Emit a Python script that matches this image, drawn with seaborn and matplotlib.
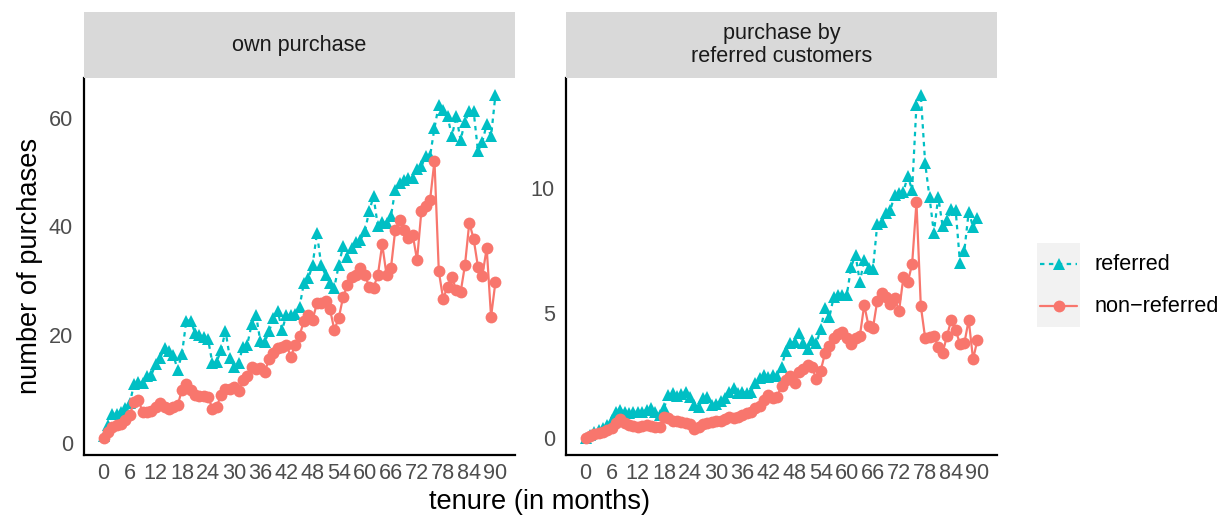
import numpy as np
import pandas as pd
import matplotlib
matplotlib.use("Agg")
import matplotlib.pyplot as plt
import seaborn as sns

# ---- data: average purchases per customer by month of tenure ----
months = list(range(0, 91))

own_referred = [
    1.2, 3.3, 5.4, 5.4, 5.6, 6.4, 7.3, 10.8, 11.2, 11.0,
    12.3, 12.6, 14.6, 15.7, 17.5, 17.0, 16.3, 13.5, 16.4, 22.6,
    22.6, 20.3, 20.0, 19.5, 19.1, 14.7, 15.0, 17.2, 20.7, 15.7,
    14.1, 14.7, 17.8, 18.1, 21.9, 23.7, 18.8, 18.6, 20.6, 23.0,
    24.3, 20.9, 23.6, 23.6, 23.9, 25.1, 29.5, 30.4, 32.8, 38.8,
    32.8, 31.0, 29.6, 28.7, 32.8, 36.3, 34.4, 36.0, 37.2, 37.5,
    39.1, 42.8, 45.6, 40.0, 40.9, 40.6, 41.9, 46.8, 48.0, 48.6,
    48.9, 48.9, 50.7, 51.1, 53.1, 53.1, 58.2, 62.5, 61.6, 60.4,
    56.7, 60.4, 56.0, 59.4, 61.3, 61.3, 53.9, 55.7, 58.9, 56.7,
    64.3,
]
own_non_referred = [
    0.9, 2.0, 3.0, 3.3, 3.5, 4.2, 5.1, 7.6, 7.9, 5.6,
    5.6, 5.9, 6.7, 7.3, 6.7, 6.3, 6.7, 6.9, 9.8, 10.8,
    9.8, 8.9, 8.7, 8.7, 8.5, 6.3, 6.7, 8.9, 10.0, 10.0,
    10.4, 9.5, 11.6, 12.3, 14.1, 13.7, 13.9, 13.1, 15.4, 16.6,
    17.5, 17.8, 18.1, 15.9, 18.1, 19.8, 22.5, 23.6, 22.7, 25.8,
    25.8, 26.3, 24.7, 20.9, 23.0, 26.9, 29.2, 30.7, 31.0, 32.3,
    31.0, 28.9, 28.7, 31.0, 36.7, 31.0, 32.3, 39.4, 41.2, 39.4,
    37.8, 38.5, 33.8, 42.9, 43.7, 44.9, 52.2, 31.7, 26.6, 28.9,
    30.6, 28.3, 27.8, 32.8, 40.7, 37.7, 32.5, 30.9, 36.0, 23.3,
    29.7,
]
rc_referred = [
    0.0, 0.12, 0.25, 0.32, 0.39, 0.52, 0.72, 1.05, 1.12, 1.05,
    0.99, 1.05, 1.05, 1.05, 1.12, 1.19, 1.05, 0.92, 1.19, 1.72,
    1.79, 1.68, 1.76, 1.85, 1.65, 1.32, 1.25, 1.59, 1.65, 1.32,
    1.36, 1.49, 1.59, 1.85, 1.99, 1.79, 1.85, 1.79, 1.85, 2.19,
    2.39, 2.52, 2.45, 2.52, 2.48, 2.85, 3.49, 3.79, 3.85, 4.19,
    3.79, 3.55, 3.92, 3.79, 4.35, 5.19, 4.83, 5.65, 5.72, 5.72,
    5.72, 6.85, 7.32, 6.25, 7.12, 6.79, 6.75, 8.56, 8.65, 8.99,
    9.12, 9.72, 9.81, 9.85, 10.48, 9.92, 13.32, 13.72, 10.99, 9.63,
    8.21, 9.65, 8.48, 8.72, 9.15, 9.12, 7.01, 7.49, 9.05, 8.45,
    8.79,
]
rc_non_referred = [
    0.0, 0.08, 0.15, 0.2, 0.22, 0.3, 0.4, 0.6, 0.75, 0.6,
    0.52, 0.48, 0.45, 0.48, 0.5, 0.47, 0.43, 0.42, 0.83, 0.78,
    0.69, 0.68, 0.64, 0.59, 0.55, 0.35, 0.45, 0.55, 0.59, 0.65,
    0.68, 0.69, 0.75, 0.83, 0.8, 0.85, 0.92, 0.99, 1.05, 1.19,
    1.28, 1.52, 1.72, 1.59, 1.65, 2.08, 2.32, 2.48, 2.21, 2.65,
    2.75, 2.92, 2.83, 2.35, 2.69, 3.39, 3.68, 4.01, 4.15, 4.25,
    3.99, 3.76, 3.99, 4.08, 5.32, 4.48, 4.39, 5.49, 5.79, 5.63,
    5.36, 5.59, 5.08, 6.43, 6.23, 6.95, 9.43, 5.28, 3.99, 4.03,
    4.08, 3.65, 3.39, 4.08, 4.72, 4.32, 3.76, 3.79, 4.72, 3.15,
    3.92,
]

groups = ["referred", "non-referred"]
legend_labels = ["referred", "non\u2212referred"]
facet_titles = ["own purchase", "purchase by\nreferred customers"]
x_ticks = list(range(0, 91, 6))
own_y_ticks = [0, 20, 40, 60]
rc_y_ticks = [0, 5, 10]

palette = {"referred": "#00BFC4", "non-referred": "#F8766D"}
markers = {"referred": "^", "non-referred": "o"}
dashes = {"referred": (2, 2), "non-referred": ""}

# ---- figure setup ----
sns.set_style("white")
plt.rcParams["font.family"] = ["Liberation Sans", "DejaVu Sans"]

W, H = 1227, 519
fig = plt.figure(figsize=(W / 100, H / 100), dpi=100)


def fx(px):
    return px / W


def fy(py):
    return 1 - py / H


SMALL = 15.6
LARGE = 19.6
MS = 8.5
LW = 1.6
panel_left = [84, 566]
panel_w = 431
panel_top, panel_bottom = 78, 455
strip_top = 12

series = [(own_referred, own_non_referred), (rc_referred, rc_non_referred)]
y_ticks = [own_y_ticks, rc_y_ticks]

for left, title, (ref, non), yt in zip(panel_left, facet_titles, series, y_ticks):
    n = len(months)
    df = pd.DataFrame({
        "tenure": months + months,
        "purchases": list(ref) + list(non),
        "group": ["referred"] * n + ["non-referred"] * n,
    })
    ax = fig.add_axes([fx(left), fy(panel_bottom), panel_w / W,
                       (panel_bottom - panel_top) / H])
    sns.lineplot(data=df, x="tenure", y="purchases", hue="group",
                 style="group", hue_order=groups, style_order=groups,
                 palette=palette, markers=markers, dashes=dashes,
                 markersize=MS, markeredgewidth=0, linewidth=LW,
                 errorbar=None, legend=False, ax=ax)

    # ggplot-style 5% expansion of the data range
    xmin, xmax = min(months), max(months)
    xpad = 0.05 * (xmax - xmin)
    ax.set_xlim(xmin - xpad, xmax + xpad)
    vals = list(ref) + list(non)
    ymin, ymax = min(vals), max(vals)
    ypad = 0.05 * (ymax - ymin)
    ax.set_ylim(ymin - ypad, ymax + ypad)

    ax.set_xticks(x_ticks)
    ax.set_xticklabels([str(t) for t in x_ticks])
    ax.set_yticks(yt)
    ax.set_yticklabels([str(t) for t in yt])
    ax.set_xlabel("")
    ax.set_ylabel("")
    for side in ["top", "right"]:
        ax.spines[side].set_visible(False)
    for side in ["left", "bottom"]:
        ax.spines[side].set_color("black")
        ax.spines[side].set_linewidth(1.6)
    ax.tick_params(axis="both", colors="#333333", labelcolor="#4D4D4D",
                   labelsize=SMALL, length=4, width=1.1)
    ax.tick_params(axis="x", pad=2)
    ax.tick_params(axis="y", pad=4)
    ax.grid(False)

    # facet strip
    sax = fig.add_axes([fx(left), fy(panel_top), panel_w / W,
                        (panel_top - strip_top) / H])
    sax.set_facecolor("#D9D9D9")
    sax.set_xticks([])
    sax.set_yticks([])
    for s in sax.spines.values():
        s.set_visible(False)
    sax.text(0.5, 0.5, title, ha="center", va="center", fontsize=SMALL,
             color="#1A1A1A", linespacing=1.15, transform=sax.transAxes)

# ---- axis titles ----
fig.text(fx(30), fy(266), "number of purchases", rotation=90, ha="center",
         va="center", fontsize=LARGE, color="black")
fig.text(fx(540), fy(502), "tenure (in months)", ha="center", va="center",
         fontsize=LARGE, color="black")

# ---- legend ----
key_left, key_top, key_w, key_h = 1037, 243, 43, 42
lax = fig.add_axes([fx(key_left), fy(key_top + 2 * key_h), key_w / W,
                    2 * key_h / H])
lax.set_facecolor("#F2F2F2")
lax.set_xlim(0, 1)
lax.set_ylim(0, 2)
lax.set_xticks([])
lax.set_yticks([])
for s in lax.spines.values():
    s.set_visible(False)
for i, (g, lab) in enumerate(zip(groups, legend_labels)):
    yk = 1.5 - i
    ls = (0, dashes[g]) if dashes[g] else "-"
    lax.plot([0.08, 0.92], [yk, yk], color=palette[g], linewidth=LW,
             linestyle=ls)
    lax.plot([0.5], [yk], marker=markers[g], color=palette[g],
             markersize=MS, markeredgewidth=0, linestyle="none")
    fig.text(fx(1095), fy(key_top + key_h * (i + 0.5)), lab, ha="left",
             va="center", fontsize=SMALL, color="black")

fig.savefig("out.png", dpi=100)
